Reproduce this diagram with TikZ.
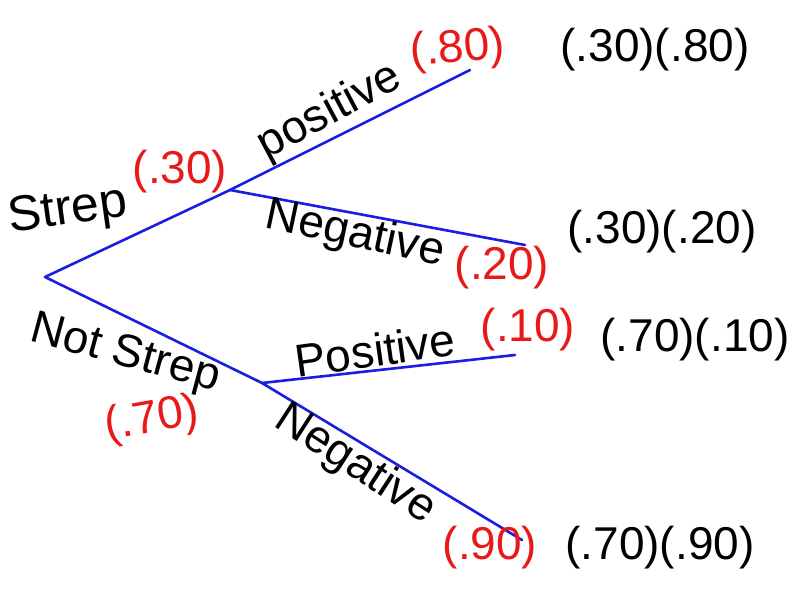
\documentclass[tikz,border=0pt]{standalone}
\usepackage{fontspec}
\setmainfont{Liberation Sans}
\definecolor{penblue}{RGB}{25,30,225}
\definecolor{penred}{RGB}{232,25,25}
\begin{document}
\begin{tikzpicture}[x=1pt,y=-1pt,
    branch/.style={penblue, line width=2.6pt, line cap=round, line join=round},
    word/.style={font=\fontsize{46}{50}\selectfont, inner sep=0pt},
    prob/.style={word, text=penred}]
    \useasboundingbox (0,0) rectangle (788,594);

    % Puntos del arbol
    \coordinate (root) at (45,277);
    \coordinate (strep) at (230,190);
    \coordinate (strepPos) at (470,70);
    \coordinate (strepNeg) at (525,245);
    \coordinate (notStrep) at (262,383);
    \coordinate (notPos) at (515,355);
    \coordinate (notNeg) at (522,540);

    % Ramas
    \draw[branch] (root) -- (strep) -- (strepPos);
    \draw[branch] (strep) -- (strepNeg);
    \draw[branch] (root) -- (notStrep) -- (notNeg);
    \draw[branch] (notStrep) -- (notPos);

    % Primera etapa
    \node[word, font=\fontsize{50}{54}\selectfont, rotate=8] (strepLab) at (68,212) {Strep};
    \node[prob] (strepP) at (180,172) {(.30)};
    \node[word, rotate=-15] (notLab) at (125,355) {Not Strep};
    \node[prob, rotate=10] (notP) at (152,420) {(.70)};

    % Segunda etapa (Strep)
    \node[word, rotate=28] (posLabA) at (330,112) {positive};
    \node[prob, rotate=5] (posPA) at (458,50) {(.80)};
    \node[word, rotate=-12] (negLabA) at (355,235) {Negative};
    \node[prob] (negPA) at (502,268) {(.20)};

    % Segunda etapa (Not Strep)
    \node[word, rotate=8] (posLabB) at (375,350) {Positive};
    \node[prob] (posPB) at (528,330) {(.10)};
    \node[word, rotate=-33] (negLabB) at (355,465) {Negative};
    \node[prob] (negPB) at (490,548) {(.90)};

    % Productos
    \node[word] (prodA) at (655,50) {(.30)(.80)};
    \node[word] (prodB) at (662,232) {(.30)(.20)};
    \node[word] (prodC) at (695,340) {(.70)(.10)};
    \node[word] (prodD) at (660,548) {(.70)(.90)};
\end{tikzpicture}
\end{document}
